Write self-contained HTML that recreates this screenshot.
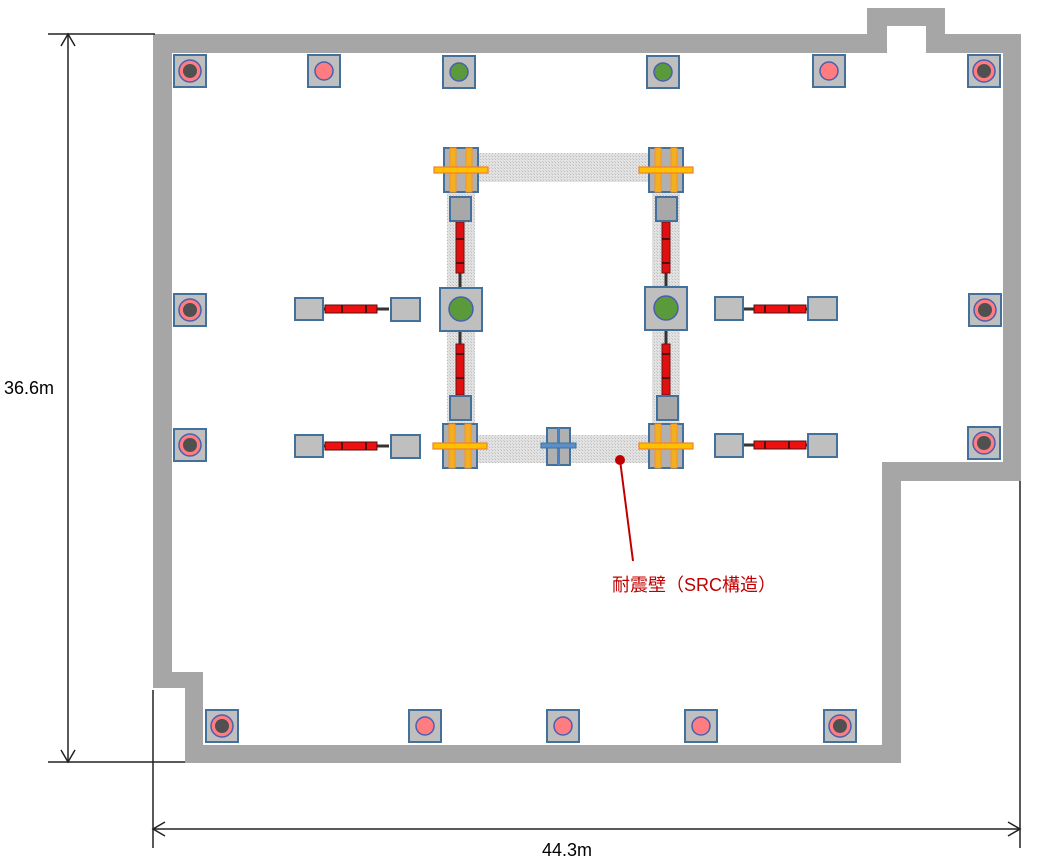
<!DOCTYPE html>
<html><head><meta charset="utf-8"><style>
html,body{margin:0;padding:0;background:#fff;width:1045px;height:865px;overflow:hidden}
svg{display:block}
</style></head><body>
<svg width="1045" height="865" viewBox="0 0 1045 865" xmlns="http://www.w3.org/2000/svg">
<defs>
<pattern id="dots" width="3" height="3" patternUnits="userSpaceOnUse">
<rect width="3" height="3" fill="#e2e2e2"/><rect width="1" height="1" fill="#bdbdbd"/><rect x="2" y="2" width="1" height="1" fill="#cccccc"/>
</pattern>
<g id="colR"><rect x="-16" y="-16" width="32" height="32" fill="#bfbfbf" stroke="#41719c" stroke-width="2"/><circle r="11" fill="#ff7c80" stroke="#4a5fb0" stroke-width="1.5"/><circle r="7" fill="#505050"/></g>
<g id="colP"><rect x="-16" y="-16" width="32" height="32" fill="#bfbfbf" stroke="#41719c" stroke-width="2"/><circle r="9" fill="#ff7c80" stroke="#4a5fb0" stroke-width="1.5"/></g>
<g id="colG"><rect x="-16" y="-16" width="32" height="32" fill="#bfbfbf" stroke="#41719c" stroke-width="2"/><circle r="9" fill="#5a9a3a" stroke="#4a5fb0" stroke-width="1.5"/></g>
<g id="corner"><rect x="-17" y="-22" width="34" height="44" fill="#b0b0b0" stroke="#41719c" stroke-width="2"/>
<rect x="-11" y="-22" width="6" height="44" fill="#f0b020" stroke="#ff9020" stroke-width="1"/>
<rect x="5" y="-22" width="6" height="44" fill="#f0b020" stroke="#ff9020" stroke-width="1"/>
<rect x="-27" y="-3" width="54" height="6" fill="#ffc000" stroke="#f08030" stroke-width="1.2"/></g>
<g id="vdamp"><rect x="-1.5" y="0" width="3" height="65" fill="#333"/><rect x="-4" y="0" width="8" height="51" fill="#e01010" stroke="#701010" stroke-width="1"/><rect x="-4.5" y="16" width="9" height="2" fill="#501010"/><rect x="-4.5" y="40" width="9" height="2" fill="#501010"/></g>
<g id="hdamp"><rect x="0" y="-1.5" width="66" height="3" fill="#333"/><rect x="2" y="-4" width="52" height="8" fill="#f01010" stroke="#501010" stroke-width="1"/><rect x="18" y="-4.5" width="2" height="9" fill="#501010"/><rect x="42" y="-4.5" width="2" height="9" fill="#501010"/></g>
</defs>
<g fill="#a6a6a6">
<rect x="153" y="34" width="734" height="19"/>
<rect x="867" y="8" width="20" height="45"/>
<rect x="867" y="8" width="78" height="18"/>
<rect x="926" y="8" width="19" height="45"/>
<rect x="926" y="34" width="95" height="19"/>
<rect x="1003" y="34" width="18" height="447"/>
<rect x="882" y="462" width="139" height="19"/>
<rect x="882" y="462" width="19" height="301"/>
<rect x="185" y="745" width="716" height="18"/>
<rect x="153" y="34" width="19" height="654"/>
<rect x="153" y="672" width="50" height="16"/>
<rect x="185" y="672" width="18" height="91"/>
</g>
<g stroke="#222" stroke-width="1.5" fill="none">
<line x1="48" y1="34" x2="155" y2="34"/>
<line x1="48" y1="762" x2="185" y2="762"/>
<line x1="68" y1="34" x2="68" y2="762"/>
<polyline points="61,46 68,34 75,46"/>
<polyline points="61,750 68,762 75,750"/>
<line x1="153" y1="690" x2="153" y2="848"/>
<line x1="1020" y1="481" x2="1020" y2="848"/>
<line x1="153" y1="829" x2="1020" y2="829"/>
<polyline points="165,822 153,829 165,836"/>
<polyline points="1008,822 1020,829 1008,836"/>
</g>
<rect x="2" y="376" width="58" height="24" fill="#fff"/>
<text x="4" y="394" font-family="Liberation Sans, sans-serif" font-size="18" fill="#000">36.6m</text>
<text x="542" y="856" font-family="Liberation Sans, sans-serif" font-size="18" fill="#000">44.3m</text>
<use href="#colR" x="190" y="71"/><use href="#colP" x="324" y="71"/><use href="#colG" x="459" y="72"/>
<use href="#colG" x="663" y="72"/><use href="#colP" x="829" y="71"/><use href="#colR" x="984" y="71"/>
<use href="#colR" x="190" y="310"/><use href="#colR" x="190" y="445"/>
<use href="#colR" x="985" y="310"/><use href="#colR" x="984" y="443"/>
<use href="#colR" x="222" y="726"/><use href="#colP" x="425" y="726"/><use href="#colP" x="563" y="726"/>
<use href="#colP" x="701" y="726"/><use href="#colR" x="840" y="726"/>
<rect x="447" y="153" width="233" height="29" fill="url(#dots)"/>
<rect x="447" y="435" width="233" height="28" fill="url(#dots)"/>
<rect x="447" y="153" width="28" height="310" fill="url(#dots)"/>
<rect x="652" y="153" width="28" height="310" fill="url(#dots)"/>
<use href="#vdamp" x="460" y="222"/><use href="#vdamp" x="666" y="222"/>
<g transform="translate(460,395) scale(1,-1)"><use href="#vdamp"/></g>
<g transform="translate(666,395) scale(1,-1)"><use href="#vdamp"/></g>
<rect x="450" y="197" width="21" height="24" fill="#a8a8a8" stroke="#41719c" stroke-width="2"/>
<rect x="656" y="197" width="21" height="24" fill="#a8a8a8" stroke="#41719c" stroke-width="2"/>
<rect x="450" y="396" width="21" height="24" fill="#a8a8a8" stroke="#41719c" stroke-width="2"/>
<rect x="657" y="396" width="21" height="24" fill="#a8a8a8" stroke="#41719c" stroke-width="2"/>
<g><rect x="440" y="288" width="42" height="43" fill="#bfbfbf" stroke="#41719c" stroke-width="2"/><circle cx="461" cy="309" r="12" fill="#5a9a3a" stroke="#4a5fb0" stroke-width="1.5"/></g>
<g><rect x="645" y="287" width="42" height="43" fill="#bfbfbf" stroke="#41719c" stroke-width="2"/><circle cx="666" cy="308" r="12" fill="#5a9a3a" stroke="#4a5fb0" stroke-width="1.5"/></g>
<use href="#corner" x="461" y="170"/><use href="#corner" x="666" y="170"/>
<use href="#corner" x="460" y="446"/><use href="#corner" x="666" y="446"/>
<rect x="547" y="428" width="23" height="37" fill="#b0b0b0" stroke="#41719c" stroke-width="2"/>
<rect x="557" y="428" width="3" height="37" fill="#4a80c0"/>
<rect x="541" y="443" width="35" height="5" fill="#5b8fc8" stroke="#41719c" stroke-width="1"/>
<use href="#hdamp" x="323" y="309"/><use href="#hdamp" x="323" y="446"/>
<g transform="translate(808,309) scale(-1,1)"><use href="#hdamp"/></g>
<g transform="translate(808,445) scale(-1,1)"><use href="#hdamp"/></g>
<g fill="#bfbfbf" stroke="#41719c" stroke-width="2">
<rect x="295" y="298" width="28" height="22"/><rect x="391" y="298" width="29" height="23"/>
<rect x="295" y="435" width="28" height="22"/><rect x="391" y="435" width="29" height="23"/>
<rect x="715" y="297" width="28" height="23"/><rect x="808" y="297" width="29" height="23"/>
<rect x="715" y="434" width="28" height="23"/><rect x="808" y="434" width="29" height="23"/>
</g>
<line x1="620" y1="460" x2="633" y2="561" stroke="#c00000" stroke-width="2"/>
<circle cx="620" cy="460" r="5" fill="#c00000"/>
<text x="612" y="591" font-family="Liberation Sans, 'Noto Sans CJK JP', sans-serif" font-size="18" fill="#c00000">耐震壁（SRC構造）</text>
</svg>
</body></html>
